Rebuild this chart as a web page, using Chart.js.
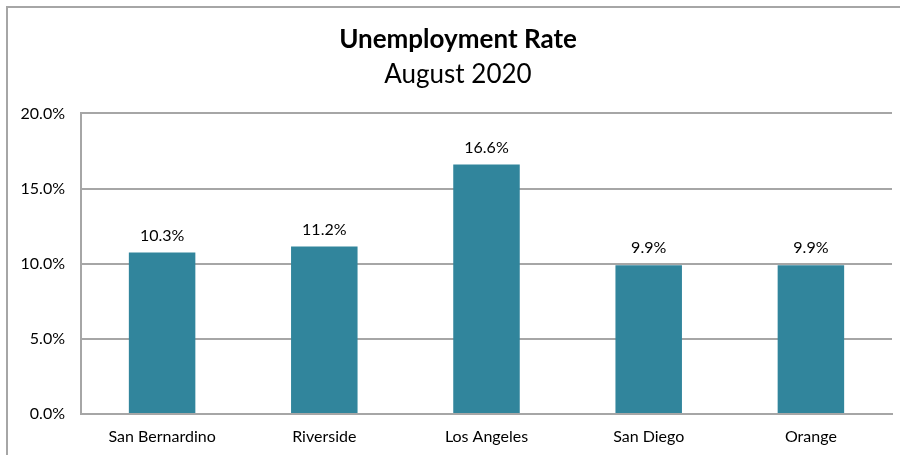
<!DOCTYPE html>
<html>
<head>
<meta charset="utf-8">
<title>Unemployment Rate</title>
<script src="https://cdn.jsdelivr.net/npm/chart.js@4.4.0/dist/chart.umd.min.js"></script>
<style>
  html, body { margin: 0; padding: 0; background: #fff; }
  #wrap { position: relative; width: 900px; height: 455px; }
</style>
</head>
<body>
<div id="wrap"><canvas id="rateChart"></canvas></div>
<script>
// data
const counties = ['San Bernardino', 'Riverside', 'Los Angeles', 'San Diego', 'Orange'];
const rates = [10.75, 11.15, 16.6, 9.9, 9.9];
const rateLabels = ['10.3%', '11.2%', '16.6%', '9.9%', '9.9%'];
const yTicks = [0, 5, 10, 15, 20];

const FONT = 'Lato';
const TEXT = '#000000';
const GRID = '#a6a6a6';

// frame around the whole chart (left + top edges only visible)
const framePlugin = {
    id: 'frame',
    beforeDraw(chart) {
        const ctx = chart.ctx;
        ctx.save();
        ctx.strokeStyle = GRID;
        ctx.lineWidth = 2;
        ctx.beginPath();
        ctx.moveTo(7, chart.height);
        ctx.lineTo(7, 7);
        ctx.lineTo(chart.width, 7);
        ctx.stroke();
        ctx.restore();
    }
};

// the original centres its titles a bit right of the canvas centre
const titleShiftPlugin = {
    id: 'titleShift',
    afterLayout(chart) {
        chart.boxes.forEach(b => {
            if (b.options && typeof b.options.text === 'string') b.left += 24;
        });
    }
};

// value labels above the bars
const barLabelPlugin = {
    id: 'barLabels',
    afterDatasetsDraw(chart) {
        const ctx = chart.ctx;
        const meta = chart.getDatasetMeta(0);
        ctx.save();
        ctx.font = `16px ${FONT}`;
        ctx.fillStyle = TEXT;
        ctx.textAlign = 'center';
        ctx.textBaseline = 'middle';
        meta.data.forEach((bar, i) => {
            ctx.fillText(rateLabels[i], bar.x, bar.y - 17);
        });
        ctx.restore();
    }
};

const ctx = document.getElementById('rateChart').getContext('2d');
new Chart(ctx, {
    type: 'bar',
    data: {
        labels: counties,
        datasets: [{
            label: 'Unemployment Rate',
            data: rates,
            backgroundColor: '#31859c',
            borderWidth: 0,
            barPercentage: 0.41,
            categoryPercentage: 1
        }]
    },
    options: {
        responsive: true, maintainAspectRatio: false, animation: false,
        layout: { padding: { left: 0, right: 8, top: 0, bottom: 0 } },
        plugins: {
            legend: { display: false },
            tooltip: { enabled: false },
            title: {
                display: true, text: 'Unemployment Rate', color: TEXT,
                font: { family: FONT, size: 26, weight: 'bold', lineHeight: 1.2 },
                padding: { top: 24, bottom: 0 }
            },
            subtitle: {
                display: true, text: 'August 2020', color: TEXT,
                font: { family: FONT, size: 26, weight: 'normal', lineHeight: 1.2 },
                padding: { top: 4, bottom: 23 }
            }
        },
        scales: {
            x: {
                afterFit(scale) { scale.height = 41; },
                grid: { display: false, drawTicks: false },
                border: { display: true, color: GRID, width: 2 },
                ticks: { color: TEXT, font: { family: FONT, size: 16 }, padding: 13, maxRotation: 0 }
            },
            y: {
                min: 0, max: 20,
                afterFit(scale) { scale.width = 81; },
                afterBuildTicks(scale) { scale.ticks = yTicks.map(v => ({ value: v })); },
                grid: { color: GRID, lineWidth: 2, drawTicks: false },
                border: { display: true, color: GRID, width: 2 },
                ticks: {
                    color: TEXT, font: { family: FONT, size: 16 }, padding: 16,
                    callback: (v) => v.toFixed(1) + '%'
                }
            }
        }
    },
    plugins: [framePlugin, titleShiftPlugin, barLabelPlugin]
});
</script>
</body>
</html>
